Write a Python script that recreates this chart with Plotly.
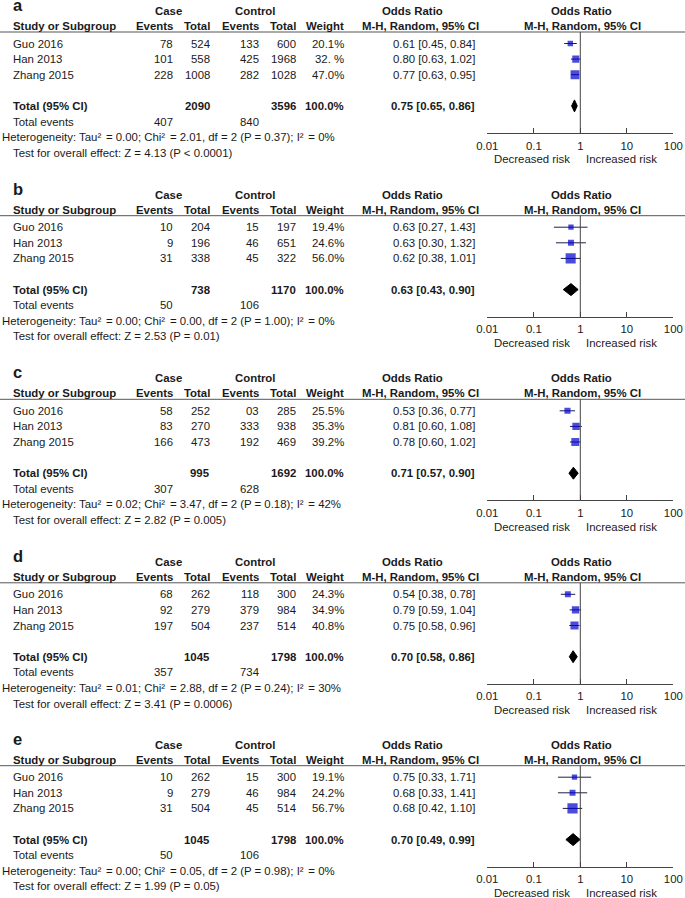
import plotly.graph_objects as go

W, H = 685, 898

# ---------------- data ----------------
panel_labels = ["a", "b", "c", "d", "e"]
studies = ["Guo 2016", "Han 2013", "Zhang 2015"]

case_events = [["78", "101", "228"], ["10", "9", "31"], ["58", "83", "166"], ["68", "92", "197"], ["10", "9", "31"]]
case_totals = [["524", "558", "1008"], ["204", "196", "338"], ["252", "270", "473"], ["262", "279", "504"], ["262", "279", "504"]]
ctrl_events = [["133", "425", "282"], ["15", "46", "45"], ["03", "333", "192"], ["118", "379", "237"], ["15", "46", "45"]]
ctrl_totals = [["600", "1968", "1028"], ["197", "651", "322"], ["285", "938", "469"], ["300", "984", "514"], ["300", "984", "514"]]
weight_labels = [["20.1%", "32. %", "47.0%"], ["19.4%", "24.6%", "56.0%"], ["25.5%", "35.3%", "39.2%"],
                 ["24.3%", "34.9%", "40.8%"], ["19.1%", "24.2%", "56.7%"]]
weights = [[20.1, 32.9, 47.0], [19.4, 24.6, 56.0], [25.5, 35.3, 39.2], [24.3, 34.9, 40.8], [19.1, 24.2, 56.7]]

or_est = [[0.61, 0.80, 0.77], [0.63, 0.63, 0.62], [0.53, 0.81, 0.78], [0.54, 0.79, 0.75], [0.75, 0.68, 0.68]]
or_lo = [[0.45, 0.63, 0.63], [0.27, 0.30, 0.38], [0.36, 0.60, 0.60], [0.38, 0.59, 0.58], [0.33, 0.33, 0.42]]
or_hi = [[0.84, 1.02, 0.95], [1.43, 1.32, 1.01], [0.77, 1.08, 1.02], [0.78, 1.04, 0.96], [1.71, 1.41, 1.10]]

total_case = ["2090", "738", "995", "1045", "1045"]
total_ctrl = ["3596", "1170", "1692", "1798", "1798"]
pooled_est = [0.75, 0.63, 0.71, 0.70, 0.70]
pooled_lo = [0.65, 0.43, 0.57, 0.58, 0.49]
pooled_hi = [0.86, 0.90, 0.90, 0.86, 0.99]
events_case = ["407", "50", "307", "357", "50"]
events_ctrl = ["840", "106", "628", "734", "106"]

tau2 = ["0.00", "0.00", "0.02", "0.01", "0.00"]
chi2 = ["2.01", "0.00", "3.47", "2.88", "0.05"]
het_p = ["0.37", "1.00", "0.18", "0.24", "0.98"]
i2 = ["0", "0", "42", "30", "0"]
z_val = ["4.13", "2.53", "2.82", "3.41", "1.99"]
z_p = ["< 0.0001", "= 0.01", "= 0.005", "= 0.0006", "= 0.05"]

tick_vals = [0.01, 0.1, 1, 10, 100]
tick_text = ["0.01", "0.1", "1", "10", "100"]

# ---------------- layout constants (pixels) ----------------
FONT = "Liberation Sans, Arial, sans-serif"
FS = 11.4
TXT = "#1a1a1a"
P = [0, 183.7, 367.3, 550.8, 733.7]   # vertical offset of each panel
ROW0 = 43.5
ROWH = 15.6
HEAD_LINE = 32
AXIS_Y = 133
FX0, FX1 = 487.3, 673.3               # forest plot x extent (0.01 .. 100)
SQ = "²\u2004\u200a"                  # superscript two with the wider spacing of the original


def px(x):
    return x / W


def py(y):
    return 1 - y / H


fig = go.Figure()
annotations = []
shapes = []


def txt(x, y, s, anchor="left", bold=False, size=FS):
    annotations.append(dict(
        x=px(x), y=py(y), xref="paper", yref="paper", text=f"<b>{s}</b>" if bold else s,
        showarrow=False, xanchor=anchor, yanchor="middle", borderpad=0,
        font=dict(family=FONT, size=size, color=TXT)))


for k in range(5):
    o = P[k]
    rows = [o + ROW0 + ROWH * i for i in range(8)]
    # panel label and headers
    txt(12, o + 5, panel_labels[k], "left", True, 16.5)
    txt(168, o + 11, "Case", "center", True)
    txt(255, o + 11, "Control", "center", True)
    txt(412, o + 11, "Odds Ratio", "center", True)
    txt(581, o + 11, "Odds Ratio", "center", True)
    hy = o + 26
    txt(12, hy, "Study or Subgroup", "left", True)
    txt(174, hy, "Events", "right", True)
    txt(211, hy, "Total", "right", True)
    txt(260, hy, "Events", "right", True)
    txt(297, hy, "Total", "right", True)
    txt(345, hy, "Weight", "right", True)
    txt(420.5, hy, "M-H, Random, 95% CI", "center", True)
    txt(582, hy, "M-H, Random, 95% CI", "center", True)
    shapes.append(dict(type="line", xref="paper", yref="paper", x0=0, x1=1,
                       y0=py(o + HEAD_LINE), y1=py(o + HEAD_LINE), line=dict(color="#555555", width=1)))
    # study rows
    for i in range(3):
        y = rows[i]
        txt(12, y, studies[i])
        txt(174, y, case_events[k][i], "right")
        txt(211, y, case_totals[k][i], "right")
        txt(260, y, ctrl_events[k][i], "right")
        txt(297, y, ctrl_totals[k][i], "right")
        txt(345, y, weight_labels[k][i], "right")
        txt(476, y, f"{or_est[k][i]:.2f} [{or_lo[k][i]:.2f}, {or_hi[k][i]:.2f}]", "right")
    # totals
    y = rows[4]
    txt(12, y, "Total (95% CI)", "left", True)
    txt(211, y, total_case[k], "right", True)
    txt(297, y, total_ctrl[k], "right", True)
    txt(345, y, "100.0%", "right", True)
    txt(476, y, f"{pooled_est[k]:.2f} [{pooled_lo[k]:.2f}, {pooled_hi[k]:.2f}]", "right", True)
    y = rows[5]
    txt(12, y, "Total events")
    txt(174, y, events_case[k], "right")
    txt(260, y, events_ctrl[k], "right")
    txt(1, rows[6], f"Heterogeneity: Tau{SQ}= {tau2[k]}; Chi{SQ}= {chi2[k]}, df = 2 (P = {het_p[k]}); I{SQ}= {i2[k]}%")
    txt(12, rows[7], f"Test for overall effect: Z = {z_val[k]} (P {z_p[k]})")
    txt(531.7, o + 159.5, "Decreased risk", "center")
    txt(621.7, o + 159.5, "Increased risk", "center")

    # forest plot axes
    n = k + 1
    xa = "x" if n == 1 else f"x{n}"
    ya = "y" if n == 1 else f"y{n}"
    ylo = -(ROW0 - HEAD_LINE) / ROWH
    yhi = (AXIS_Y - ROW0) / ROWH
    # CI lines
    cx, cy = [], []
    for i in range(3):
        cx += [or_lo[k][i], or_hi[k][i], None]
        cy += [i, i, None]
    fig.add_trace(go.Scatter(x=cx, y=cy, mode="lines", line=dict(color="#1e1e4a", width=1),
                             xaxis=xa, yaxis=ya, hoverinfo="skip", showlegend=False))
    # squares
    fig.add_trace(go.Scatter(x=or_est[k], y=[0, 1, 2], mode="markers",
                             marker=dict(symbol="square", color="#0000cc",
                                         size=[0.13 * w + 2.8 for w in weights[k]], line=dict(width=0)),
                             xaxis=xa, yaxis=ya, showlegend=False))
    # pooled diamond
    hh = 6 / ROWH
    fig.add_trace(go.Scatter(x=[pooled_lo[k], pooled_est[k], pooled_hi[k], pooled_est[k], pooled_lo[k]],
                             y=[4, 4 - hh, 4, 4 + hh, 4], mode="lines", fill="toself",
                             fillcolor="black", line=dict(color="black", width=1),
                             xaxis=xa, yaxis=ya, showlegend=False))
    dom_y = [py(o + AXIS_Y), py(o + HEAD_LINE)]
    xkey = "xaxis" if n == 1 else f"xaxis{n}"
    ykey = "yaxis" if n == 1 else f"yaxis{n}"
    fig.update_layout(**{
        xkey: dict(type="log", range=[-2, 2], domain=[px(FX0), px(FX1)], anchor=ya, automargin=False,
                   showline=True, linecolor="#444444", linewidth=1, ticks="inside", ticklen=5,
                   tickcolor="#444444", tickvals=tick_vals, ticktext=tick_text, showgrid=False,
                   zeroline=False, tickfont=dict(family=FONT, size=FS, color=TXT), ticklabelstandoff=2),
        ykey: dict(range=[yhi, ylo], domain=dom_y, anchor=xa, visible=False, showgrid=False,
                   zeroline=False, automargin=False),
    })
    shapes.append(dict(type="line", xref=xa, yref=f"{ya} domain", x0=1, x1=1, y0=0, y1=1,
                       line=dict(color="#444444", width=1)))

fig.update_layout(width=W, height=H, autosize=False,
                  margin=dict(l=0, r=0, t=0, b=0, pad=0, autoexpand=False),
                  paper_bgcolor="white", plot_bgcolor="white",
                  annotations=annotations, shapes=shapes, showlegend=False)
fig.write_html("out.html", config={"displayModeBar": False, "responsive": False},
               post_script="document.body.style.margin='0';document.body.style.overflow='hidden';")
